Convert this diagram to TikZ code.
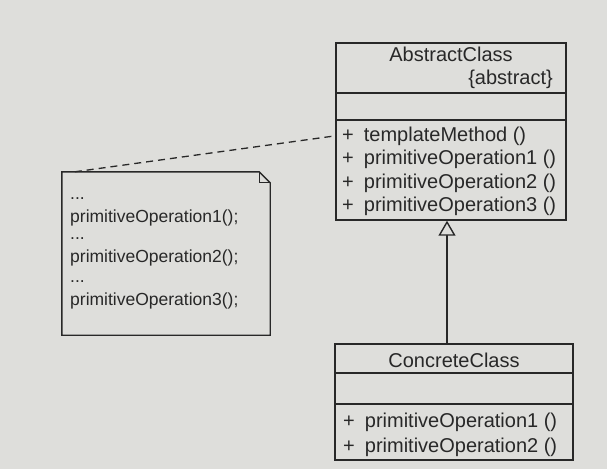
\documentclass[tikz,border=0pt]{standalone}
\usepackage{fontspec}
\setmainfont{Liberation Sans}
\usetikzlibrary{arrows.meta}
\definecolor{paper}{RGB}{222,222,219}
\definecolor{ink}{RGB}{40,40,40}
\tikzset{
  umlbox/.style={draw=ink, line width=1.4pt, rectangle, inner sep=0pt},
  umlline/.style={draw=ink, line width=1.4pt},
  optext/.style={anchor=base west, inner sep=0pt, text=ink, font=\fontsize{20}{24}\selectfont},
  notetext/.style={anchor=base west, inner sep=0pt, text=ink, font=\fontsize{17.5}{21}\selectfont},
}
\begin{document}
\begin{tikzpicture}[x=1pt,y=-1pt]
    \fill[paper] (0,0) rectangle (607,469);
    \useasboundingbox (0,0) rectangle (607,469);
    % abstract class
    \node[umlbox, minimum width=230pt, minimum height=177pt] (abs) at (451,131.5) {};
    \draw[umlline] (abs.west |- 0,93) -- (abs.east |- 0,93);
    \draw[umlline] (abs.west |- 0,120) -- (abs.east |- 0,120);
    \node[optext, anchor=base] (abs-name) at (451,61) {AbstractClass};
    \node[optext, anchor=base east] (abs-tag) at (553,84) {\{abstract\}};
    \foreach \op [count=\i] in {templateMethod, primitiveOperation1, primitiveOperation2, primitiveOperation3}
    \node[optext] (abs-op\i) at (342,117.5+23.5*\i) {+\hspace{0.5em}\op\ ()};
    % concrete class
    \node[umlbox, minimum width=238pt, minimum height=116pt] (con) at (454,402) {};
    \draw[umlline] (con.west |- 0,373) -- (con.east |- 0,373);
    \draw[umlline] (con.west |- 0,404) -- (con.east |- 0,404);
    \node[optext, anchor=base] (con-name) at (454,367) {ConcreteClass};
    \foreach \i in {1,2}
    \node[optext] (con-op\i) at (343,402+25*\i) {+\hspace{0.5em}primitiveOperation\i\ ()};
    % inheritance
    \coordinate (stem) at (447,0);
    \draw[umlline, -{Triangle[open, length=15pt, width=17pt, fill=paper]}] (con.north -| stem) -- (abs.south -| stem);
    % note
    \node[minimum width=208pt, minimum height=163pt, inner sep=0pt] (note) at (166,253.5) {};
    \draw[umlline] (note.north west) -- ([xshift=-11pt]note.north east) -- ([yshift=-11pt]note.north east) -- (note.south east) -- (note.south west) -- cycle;
    \draw[draw=ink, line width=1.1pt] ([xshift=-11pt]note.north east) |- ([yshift=-11pt]note.north east);
    \foreach \k/\yb in {1/222, 2/262, 3/305} {
    \node[notetext] (note-dots\k) at (70,\yb-23) {...};
    \node[notetext] (note-op\k) at (70,\yb) {primitiveOperation\k();};
    }
    \draw[draw=ink, line width=1.3pt, dash pattern=on 7pt off 5pt] ([xshift=13pt]note.north west) -- (abs.west |- abs-op1);
\end{tikzpicture}
\end{document}
